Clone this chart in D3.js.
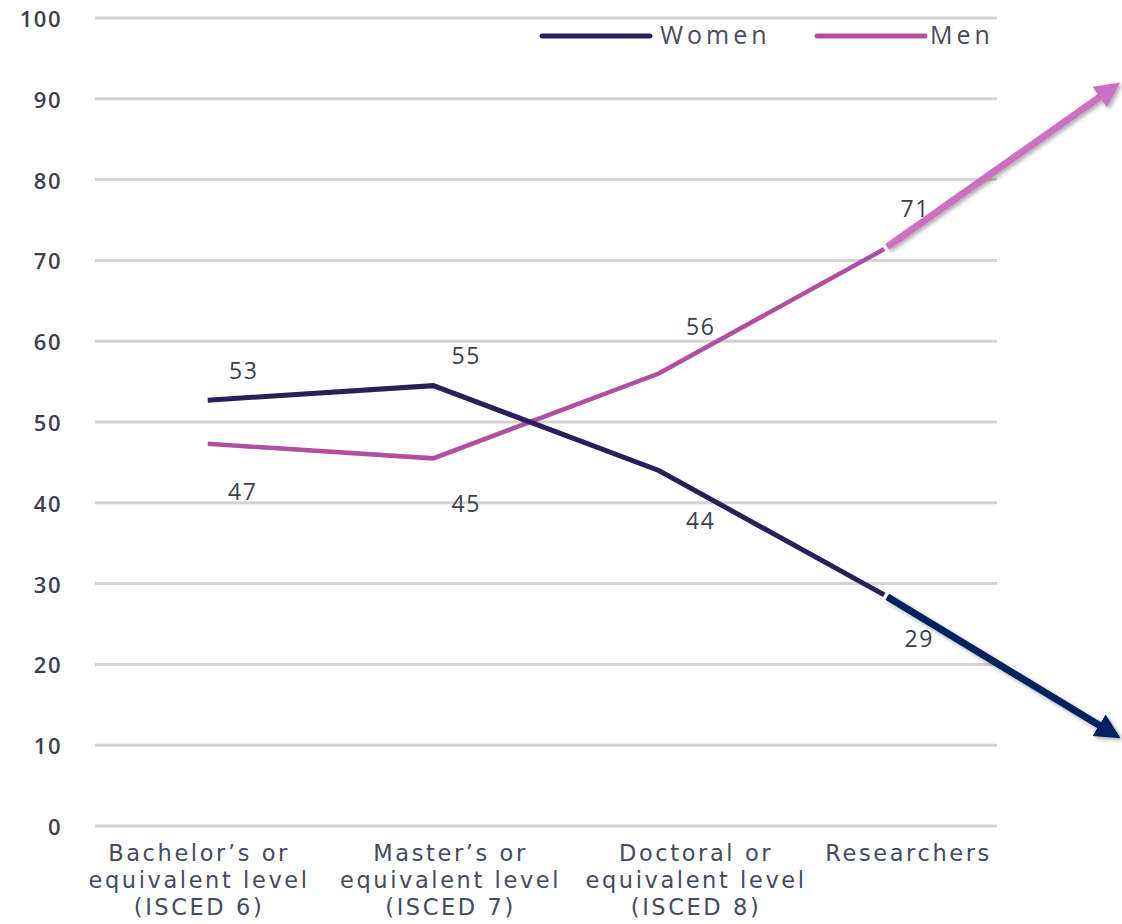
<!DOCTYPE html>
<html><head><meta charset="utf-8">
<script src="https://cdn.jsdelivr.net/npm/d3@7"></script>
<style>body{margin:0;background:#fff}svg{display:block}</style>
</head><body>
<svg id="c" width="1122" height="924"></svg>
<script>
const categories = [["Bachelor\u2019s or","equivalent level","(ISCED 6)"],["Master\u2019s or","equivalent level","(ISCED 7)"],["Doctoral or","equivalent level","(ISCED 8)"],["Researchers"]];
const women = [52.7, 54.5, 44.0, 28.6];
const men = [47.3, 45.5, 56.0, 71.4];
const womenLabels = ["53","55","44","29"];
const menLabels = ["47","45","56","71"];
const yTicks = [0,10,20,30,40,50,60,70,80,90,100];
const arrowMenEnd = 91.3;
const arrowWomenEnd = 11.5;

(function(){
const svg = d3.select("#c");
const pl = 95, pr = 997, pt = 18, pb = 826;
const x = d3.scalePoint().domain(d3.range(categories.length)).range([pl, pr]).padding(0.5);
const y = d3.scaleLinear().domain([0,100]).range([pb, pt]);
const font = "'Open Sans', 'Noto Sans', sans-serif";
const txt = "#3d3f4f";
const cW = "#2a1f5a", cM = "#b04fa0";

svg.append("g").selectAll("line").data(yTicks).join("line")
  .attr("x1", pl).attr("x2", pr).attr("y1", d=>y(d)).attr("y2", d=>y(d))
  .attr("stroke", "#d4d4d4").attr("stroke-width", 3);
svg.append("g").selectAll("text").data(yTicks).join("text")
  .attr("x", 62).attr("y", d=>y(d)+9).attr("text-anchor","end")
  .attr("font-family", font).attr("font-size", 22).attr("font-weight", 600).attr("fill", txt)
  .attr("letter-spacing", 1.5)
  .text(d=>d);
const xl = svg.append("g");
const labelShift = [-10, 16, 36, 23];
categories.forEach((lines,i)=>{
  const t = xl.append("text").attr("text-anchor","middle").attr("font-family", "'DejaVu Sans', sans-serif")
    .attr("font-size", 22.5).attr("fill", "#454a5e").attr("letter-spacing", 2.6);
  lines.forEach((l,j)=>t.append("tspan").attr("x", x(i)+labelShift[i]+1.3).attr("y", 861 + j*27).text(l));
});

const line = d3.line().x((d,i)=>x(i)).y(d=>y(d));
svg.append("path").datum(men).attr("d", line).attr("fill","none").attr("stroke", cM).attr("stroke-width", 4.5).attr("stroke-linejoin","miter");
svg.append("path").datum(women).attr("d", line).attr("fill","none").attr("stroke", cW).attr("stroke-width", 5).attr("stroke-linejoin","miter");

const labOffW = [-21, -22, 59, 52];
const labOffM = [56, 54, -39, -32];
svg.append("g").selectAll("text").data(women).join("text")
  .attr("x",(d,i)=>x(i)+ [36,33,42,35][i]).attr("y",(d,i)=>y(d)+labOffW[i])
  .attr("text-anchor","middle").attr("font-family",font).attr("font-size",23).attr("letter-spacing",1.5).attr("fill",txt)
  .text((d,i)=>womenLabels[i]);
svg.append("g").selectAll("text").data(men).join("text")
  .attr("x",(d,i)=>x(i)+ [35,33,42,31][i]).attr("y",(d,i)=>y(d)+labOffM[i])
  .attr("text-anchor","middle").attr("font-family",font).attr("font-size",23).attr("letter-spacing",1.5).attr("fill",txt)
  .text((d,i)=>menLabels[i]);

const defs = svg.append("defs");
const shadow = defs.append("filter").attr("id","sh").attr("x","-20%").attr("y","-20%").attr("width","140%").attr("height","140%");
shadow.append("feDropShadow").attr("dx",2).attr("dy",2).attr("stdDeviation",2).attr("flood-color","#000").attr("flood-opacity",0.35);
function arrow(color, v0, v1, id){
  defs.append("marker").attr("id",id).attr("viewBox","0 0 10 10").attr("refX",6).attr("refY",5)
    .attr("markerWidth",3.6).attr("markerHeight",3.6).attr("orient","auto")
    .append("path").attr("d","M0,0 L10,5 L0,10 z").attr("fill",color);
  const x0 = x(3)+3, x1 = 1112;
  const slope = (y(v1)-y(v0))/(x1-x(3));
  svg.append("line").attr("x1",x0).attr("y1",y(v0)+slope*3).attr("x2",x1).attr("y2",y(v1))
    .attr("stroke",color).attr("stroke-width",7).attr("marker-end",`url(#${id})`).attr("filter","url(#sh)");
}
arrow("#cc6fc0", men[3], arrowMenEnd, "am");
arrow("#002060", women[3], arrowWomenEnd, "aw");

const lg = svg.append("g").attr("font-family",font).attr("font-size",25).attr("fill","#4a4a5c").attr("letter-spacing",4);
lg.append("line").attr("x1",542).attr("x2",650).attr("y1",36).attr("y2",36).attr("stroke",cW).attr("stroke-width",5).attr("stroke-linecap","round");
lg.append("text").attr("x",660).attr("y",44).text("Women");
lg.append("line").attr("x1",817).attr("x2",925).attr("y1",36).attr("y2",36).attr("stroke",cM).attr("stroke-width",5).attr("stroke-linecap","round");
lg.append("text").attr("x",930).attr("y",44).text("Men");
})();
</script>
</body></html>
